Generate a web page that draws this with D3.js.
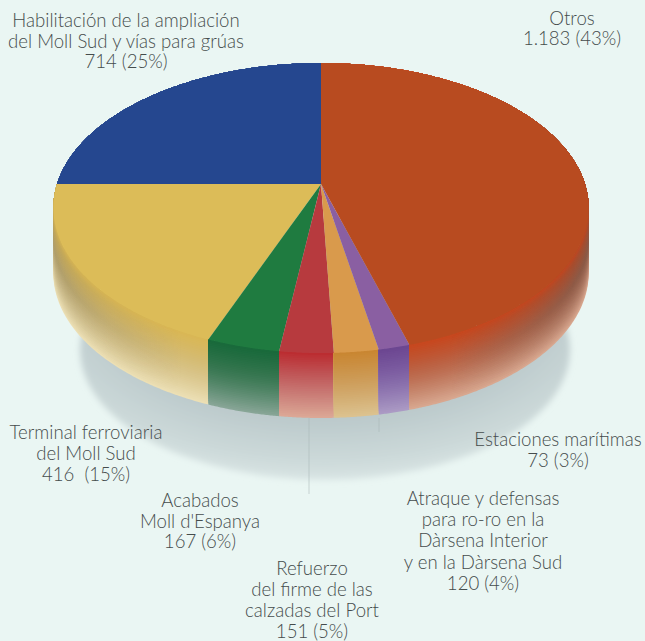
<!DOCTYPE html>
<html lang="es">
<head>
<meta charset="utf-8">
<title>Inversiones</title>
<script src="https://cdn.jsdelivr.net/npm/d3@7/dist/d3.min.js"></script>
<style>
  html, body { margin: 0; padding: 0; background: #eaf6f3; }
  svg { display: block; }
  text { font-family: Lato, "Open Sans", sans-serif; font-weight: 300; fill: #454c4c; font-size: 18.6px; }
</style>
</head>
<body>
<svg id="chart" width="645" height="641"></svg>
<script>
// Slices, counter-clockwise from twelve o'clock
const values = [714, 416, 167, 151, 120, 73, 1183];
const amounts = ["714", "416 ", "167", "151", "120", "73", "1.183"];
const percents = [25, 15, 6, 5, 4, 3, 43];
const names = [
  ["Habilitación de la ampliación", "del Moll Sud y vías para grúas"],
  ["Terminal ferroviaria", "del Moll Sud"],
  ["Acabados", "Moll d'Espanya"],
  ["Refuerzo", "del firme de las", "calzadas del Port"],
  ["Atraque y defensas", "para ro-ro en la", "Dàrsena Interior", "y en la Dàrsena Sud"],
  ["Estaciones marítimas"],
  ["Otros"]
];

// Face colour, then the wall fading from the rim to its foot
const faceColors = ["#25478f", "#dcbc58", "#1f7b40", "#b73a3e", "#d99a4c", "#8a5fa2", "#b84b20"];
const wallColors = [
  ["#25478f", "#6f80a8", "#b0b8cc"],
  ["#dab753", "#d0ba7c", "#ecdfb4"],
  ["#17693a", "#37754f", "#87a596"],
  ["#bb2a2e", "#c0696a", "#dca795"],
  ["#c9852f", "#cc9d5c", "#dcc28f"],
  ["#6b4590", "#8063a6", "#ab9ac4"],
  ["#c8461c", "#b3654a", "#d8a78f"]
];

// Label anchor: centre x, first baseline, line step
const labelPlaces = [
  [126, 27, 20.6], [86, 439, 21], [200, 507, 20.5], [312, 575, 21],
  [483, 505, 21.2], [558, 446, 21], [572, 25, 20]
];

const TAU = Math.PI * 2;
const cx = 321, cy = 208;          // centre of the rim ellipse
const rimWidth = 264, rimDepth = 145, tilt = -0.1655, hubLift = -24;
const wallHeight = 65, bandCount = 36;

const arcs = d3.pie().value(d => d).sort(null).startAngle(0).endAngle(-TAU)(values);
const backEnd = -arcs[0].endAngle;

// The front of the disc is foreshortened: slices bunch up toward six o'clock
function foreshorten(a) {
  if (a <= backEnd) return a * (Math.PI / 2) / backEnd;
  const span = Math.PI - backEnd, off = a - Math.PI, t = Math.abs(off) / span;
  if (t <= 1) return Math.PI + Math.sign(off) * (Math.PI / 4) * (t + t * t * t);
  return d3.scaleLinear().domain([Math.PI + span, TAU]).range([Math.PI * 1.5, TAU])(a);
}

// Disc angle to screen point under the perspective of the drawing
function rimPoint(a) {
  const b = foreshorten(a);
  const u = -Math.sin(b), v = -Math.cos(b), w = 1 + tilt * v;
  return [cx + rimWidth * u / w, cy + (rimDepth * v + hubLift) / w];
}

const hub = [cx, cy + hubLift];
const line = d3.line();
const rimOf = d => {
  const a0 = -d.startAngle, a1 = -d.endAngle;
  const n = Math.max(8, Math.ceil((a1 - a0) * 120));
  return d3.range(n + 1).map(i => rimPoint(a0 + (a1 - a0) * i / n));
};
const ribbon = (rim, h0, h1) =>
  line(rim.map(p => [p[0], p[1] + h0]).concat(rim.slice().reverse().map(p => [p[0], p[1] + h1]))) + "Z";

const svg = d3.select("#chart");
const defs = svg.append("defs");

// Cast shadow under the drum
defs.append("filter").attr("id", "soft").attr("x", "-10%").attr("y", "-10%").attr("width", "120%").attr("height", "120%")
  .append("feGaussianBlur").attr("stdDeviation", 3);
const shadeGrad = defs.append("radialGradient").attr("id", "shadowFade")
  .attr("cx", 0.5).attr("cy", 0.32).attr("r", 0.72);
[[0, "#b5c3c6"], [0.6, "#bac8ca"], [0.85, "#cddada"], [1, "#e0ebea"]].forEach(([o, c]) =>
  shadeGrad.append("stop").attr("offset", o).attr("stop-color", c));
svg.append("ellipse").attr("cx", 325).attr("cy", 350).attr("rx", 245).attr("ry", 130)
  .attr("fill", "url(#shadowFade)").attr("filter", "url(#soft)");

// Walls: rim-following bands painted foot first so no seams show
arcs.forEach((d, i) => {
  const rim = rimOf(d);
  const color = d3.interpolateRgbBasis(wallColors[i]);
  const g = svg.append("g").attr("class", "wall");
  g.selectAll("path").data(d3.range(bandCount, 0, -1)).join("path")
    .attr("d", k => ribbon(rim, 0, wallHeight * k / bandCount))
    .attr("fill", k => color(k / bandCount));
});

// Darker turn of the wall toward both ends of the drum, strongest at mid height
const sideGrad = defs.append("linearGradient").attr("id", "sideShade")
  .attr("gradientUnits", "userSpaceOnUse").attr("x1", 53).attr("x2", 589).attr("y1", 0).attr("y2", 0);
[[0, 0.28], [0.1, 0.14], [0.24, 0], [0.74, 0], [0.88, 0.22], [1, 0.45]].forEach(([o, a]) =>
  sideGrad.append("stop").attr("offset", o).attr("stop-color", "#4a4a45").attr("stop-opacity", a));
const shadeMask = defs.append("mask").attr("id", "wallMask").attr("maskUnits", "userSpaceOnUse")
  .attr("x", 0).attr("y", 0).attr("width", 645).attr("height", 641);
const heightProfile = d3.scaleLinear().domain([0, 0.12, 0.45, 1]).range([0.1, 0.55, 1, 0]);
arcs.slice(1).forEach(d => {
  const rim = rimOf(d);
  d3.range(bandCount, 0, -1).forEach(k => {
    const g = Math.round(255 * heightProfile(k / bandCount));
    shadeMask.append("path").attr("d", ribbon(rim, 0, wallHeight * k / bandCount))
      .attr("fill", `rgb(${g},${g},${g})`);
  });
});
svg.append("rect").attr("width", 645).attr("height", 641)
  .attr("fill", "url(#sideShade)").attr("mask", "url(#wallMask)");

// Top face
svg.append("g").selectAll("path").data(arcs).join("path")
  .attr("d", d => line([hub].concat(rimOf(d))) + "Z")
  .attr("fill", (d, i) => faceColors[i]);

// Faint leader marks below the drum
svg.append("g").attr("stroke", "#a9b8b8").attr("stroke-width", 1).attr("stroke-opacity", 0.55).selectAll("line")
  .data([[309, 418, 494], [379, 418, 432]]).join("line")
  .attr("x1", d => d[0]).attr("x2", d => d[0]).attr("y1", d => d[1]).attr("y2", d => d[2]);

// Labels
const labels = svg.append("g").selectAll("text").data(values).join("text")
  .attr("text-anchor", "middle");
labels.each(function (d, i) {
  const [x, y, step] = labelPlaces[i];
  const rows = names[i].concat(`${amounts[i]} (${percents[i]}%)`);
  d3.select(this).selectAll("tspan").data(rows).join("tspan")
    .attr("x", x).attr("y", (r, j) => y + j * step)
    .attr("xml:space", "preserve").text(r => r);
});
</script>
</body>
</html>
